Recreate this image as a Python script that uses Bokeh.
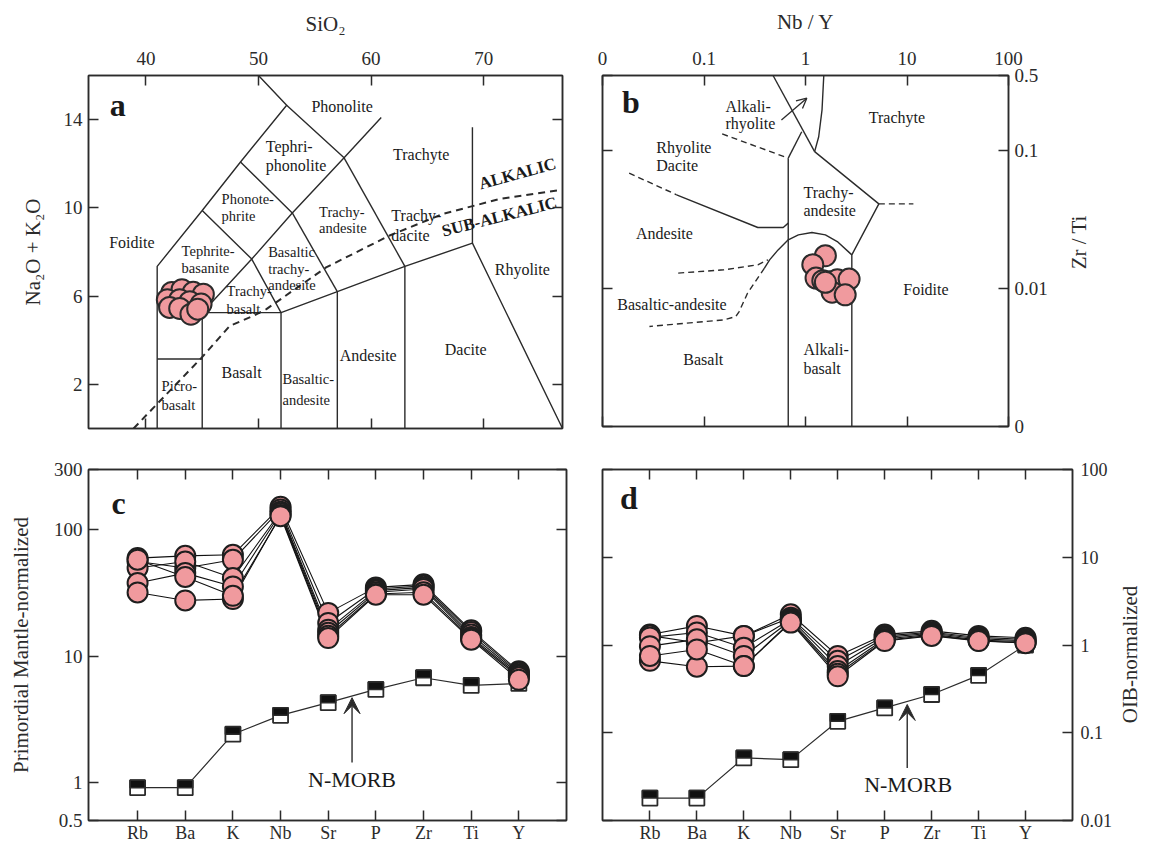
import math
from bokeh.plotting import figure
from bokeh.models import (LinearAxis, LogAxis, FixedTicker, Range1d, Arrow,
                          VeeHead, OpenHead, BasicTickFormatter)
from bokeh.layouts import column, row
from bokeh.embed import file_html
from bokeh.resources import INLINE
from bokeh.core.properties import value

FONT = "Liberation Serif, Times New Roman, serif"
INK = "#2b2b2b"
PINK = "#f09a9e"

# ======================= DATA =======================
# (a) TAS diagram
sio2_ticks = [40, 50, 60, 70]
alk_ticks = [2, 6, 10, 14]
tas_sio2 = [42.3, 43.2, 44.2, 45.1, 41.9, 43.0, 43.9, 44.9, 42.1, 43.0, 44.0, 44.6]
tas_alk = [6.17, 6.29, 6.17, 6.09, 5.84, 5.84, 5.75, 5.64, 5.49, 5.44, 5.18, 5.41]

tas_bounds_x = [
    [41, 41, 45, 48.4, 52.5, 50.0],
    [52.5, 57.6, 60.9],
    [57.6, 63.0],
    [48.4, 53.0, 57.6],
    [45, 49.4, 53.0],
    [45, 49.4, 52.0],
    [53.0, 57.0],
    [41, 45],
    [45, 45, 52, 57, 63, 69, 77],
    [52, 52], [57, 57], [63, 63], [69, 69],
]
tas_bounds_y = [
    [0, 7.35, 9.88, 12.08, 14.65, 16.0],
    [14.65, 12.27, 14.1],
    [12.27, 7.35],
    [12.08, 9.77, 12.27],
    [9.88, 7.68, 9.77],
    [5.25, 7.68, 5.25],
    [9.77, 6.2],
    [3.15, 3.15],
    [0, 5.25, 5.25, 6.2, 7.35, 8.4, 0],
    [0, 5.25], [0, 6.2], [0, 7.35], [8.4, 13.65],
]
alkalic_x = [38.9, 44.95, 47.45, 49.5, 50.7, 56.0, 61.65, 66.4, 71.4, 76.9]
alkalic_y = [0.0, 3.21, 4.65, 5.1, 5.41, 7.3, 8.75, 9.73, 10.4, 10.82]

# (b) Nb/Y vs Zr/Ti diagram
nby_ticks = [0.01, 0.1, 1, 10, 100]
nby_labels = ["0", "0.1", "1", "10", "100"]
B_TOP = 0.35
zrti_ticks = [0.001, 0.01, 0.1, B_TOP]
zrti_labels = ["0", "0.01", "0.1", "0.5"]
nby = [1.57, 1.18, 1.27, 1.48, 1.72, 2.06, 2.69, 1.83, 2.46, 1.57]
zrti = [0.0173, 0.0149, 0.0119, 0.0114, 0.0112, 0.0116, 0.0117, 0.0094, 0.0090, 0.0111]

wf_solid_x = [
    [0.479, 1.23],
    [0.676, 0.918],
    [1.514, 1.455, 1.349, 1.23],
    [0.676, 0.676],
    [1.23, 5.28, 2.86, 2.86],
    [2.86, 2.056, 1.57, 1.156, 0.851, 0.676, 0.537, 0.443, 0.394],
    [0.0537, 0.339, 0.603, 0.676],
]
wf_solid_y = [
    [B_TOP, 0.0983],
    [0.0881, 0.137],
    [B_TOP, 0.197, 0.126, 0.0983],
    [0.0881, 0.001],
    [0.0983, 0.0411, 0.01754, 0.001],
    [0.01754, 0.0219, 0.0245, 0.0255, 0.0245, 0.02254, 0.01906, 0.01614, 0.01406],
    [0.0478, 0.0277, 0.0277, 0.0298],
]
wf_dash_x = [
    [5.28, 11.56],
    [0.394, 0.269, 0.222, 0.206, 0.157, 0.029],
    [0.0557, 0.157, 0.339, 0.427],
    [0.0183, 0.0537],
    [0.151, 0.676],
]
wf_dash_y = [
    [0.0411, 0.0411],
    [0.01406, 0.00927, 0.00681, 0.00627, 0.00593, 0.00531],
    [0.01294, 0.01367, 0.01485, 0.01614],
    [0.0686, 0.0478],
    [0.132, 0.0881],
]

# (c, d) spider diagrams
elements = ["Rb", "Ba", "K", "Nb", "Sr", "P", "Zr", "Ti", "Y"]
elem_idx = list(range(len(elements)))
pm_ticks = [0.5, 1, 10, 100, 300]
pm_labels = ["0.5", "1", "10", "100", "300"]
oib_ticks = [0.01, 0.1, 1, 10, 100]
oib_labels = ["0.01", "0.1", "1", "10", "100"]

pm_samples = [
    [59.7, 62.2, 63.4, 152, 22.0, 35.0, 37.0, 16.0, 7.6],
    [56.1, 49.8, 57.9, 145, 18.3, 34.0, 36.0, 15.5, 7.4],
    [49.8, 56.1, 41.5, 139, 16.2, 33.0, 35.0, 14.8, 7.2],
    [37.9, 45.4, 35.6, 135, 15.3, 32.0, 34.0, 14.2, 7.0],
    [31.9, 27.6, 28.3, 131, 14.5, 31.0, 32.0, 13.8, 6.8],
    [58.0, 42.3, 30.0, 128, 13.9, 30.6, 30.6, 13.5, 6.5],
]
pm_nmorb = [0.91, 0.91, 2.41, 3.4, 4.28, 5.45, 6.74, 5.86, 6.08]

oib_samples = [
    [1.32, 1.65, 1.27, 2.24, 0.75, 1.32, 1.45, 1.27, 1.21],
    [1.28, 1.06, 1.27, 2.05, 0.66, 1.27, 1.40, 1.22, 1.16],
    [1.22, 1.39, 0.93, 1.97, 0.575, 1.22, 1.36, 1.18, 1.12],
    [0.97, 1.16, 0.75, 1.90, 0.505, 1.17, 1.32, 1.14, 1.09],
    [0.66, 0.566, 0.575, 1.85, 0.47, 1.13, 1.29, 1.12, 1.06],
    [0.75, 0.89, 0.575, 1.80, 0.44, 1.11, 1.27, 1.11, 1.05],
]
oib_nmorb = [0.018, 0.018, 0.0516, 0.0494, 0.135, 0.192, 0.273, 0.45, 1.0]


# ======================= HELPERS =======================
def base_fig(**kw):
    p = figure(output_backend="svg", toolbar_location=None, tools="", **kw)
    p.grid.visible = False
    p.outline_line_color = INK
    p.outline_line_width = 1.5
    p.background_fill_color = "white"
    p.border_fill_color = "white"
    return p


def style_axis(ax, ticks, labels=None, show=True, size="19px"):
    ax.ticker = FixedTicker(ticks=list(ticks))
    ax.formatter = BasicTickFormatter()
    ax.major_tick_in = 10
    ax.major_tick_out = 0
    ax.minor_tick_line_color = None
    ax.minor_tick_in = 0
    ax.minor_tick_out = 0
    ax.axis_line_color = INK
    ax.axis_line_width = 1.5
    ax.major_tick_line_color = INK
    ax.major_tick_line_width = 1.5
    ax.major_label_text_font = FONT
    ax.major_label_text_color = INK
    ax.major_label_standoff = 6
    if show:
        ax.major_label_text_font_size = size
        if labels is not None:
            ax.major_label_overrides = {t: l for t, l in zip(ticks, labels)}
    else:
        ax.major_label_text_font_size = "0px"
        ax.major_label_overrides = {t: "" for t in ticks}
    ax.axis_label_text_font = FONT
    ax.axis_label_text_font_style = "normal"
    ax.axis_label_text_color = INK
    ax.axis_label_text_font_size = "21px"
    ax.axis_label_standoff = 10


def labels(p, items, size, align="left", bold=False, angle=0.0):
    p.text(x=[i[1] for i in items], y=[i[2] for i in items], text=[i[0] for i in items],
           text_font=value(FONT), text_font_size=size, text_align=align,
           text_baseline="middle", text_color="#1a1a1a", angle=angle,
           text_font_style="bold" if bold else "normal")


def label_strip(text, ypos, width, frame_h, top, bottom):
    """Narrow companion figure that carries a right-hand axis title reading upward."""
    s = figure(output_backend="svg", toolbar_location=None, tools="",
               x_range=Range1d(0, 1), y_range=Range1d(0, 1),
               frame_width=width, frame_height=frame_h,
               x_axis_location=None, y_axis_location=None,
               min_border_left=0, min_border_right=0,
               min_border_top=top, min_border_bottom=bottom)
    s.grid.visible = False
    s.outline_line_color = None
    s.background_fill_color = "white"
    s.border_fill_color = "white"
    s.text(x=[0.5], y=[ypos], text=[text], angle=math.pi / 2,
           text_font=value(FONT), text_font_size="21px", text_align="center",
           text_baseline="middle", text_color=INK)
    return s


# ======================= (a) TAS =======================
pa = base_fig(x_range=Range1d(34.9, 77), y_range=Range1d(0, 16),
              frame_width=474, frame_height=353,
              min_border_left=88, min_border_right=20, min_border_top=73, min_border_bottom=20,
              x_axis_location="above")
style_axis(pa.xaxis[0], sio2_ticks, [str(t) for t in sio2_ticks])
pa.xaxis[0].axis_label = "SiO\u2082"
pa.xaxis[0].major_label_standoff = 11
pa.xaxis[0].axis_label_standoff = 13
style_axis(pa.yaxis[0], alk_ticks, [str(t) for t in alk_ticks])
pa.yaxis[0].axis_label = "Na\u2082O + K\u2082O"
pa.yaxis[0].axis_label_standoff = 16
ax_b = LinearAxis(); style_axis(ax_b, sio2_ticks, show=False); pa.add_layout(ax_b, "below")
ax_r = LinearAxis(); style_axis(ax_r, alk_ticks, show=False); pa.add_layout(ax_r, "right")

pa.multi_line(xs=tas_bounds_x, ys=tas_bounds_y, line_color=INK, line_width=1.4)
pa.line(alkalic_x, alkalic_y, line_color=INK, line_width=2, line_dash="7 5")

labels(pa, [("Phonolite", 54.7, 14.58), ("Tephri-", 50.65, 12.76), ("phonolite", 50.65, 11.9),
            ("Foidite", 36.74, 8.44), ("Basalt", 46.72, 2.53), ("Andesite", 57.22, 3.3),
            ("Dacite", 66.54, 3.58), ("Rhyolite", 70.98, 7.21), ("Trachyte", 61.95, 12.44),
            ("Trachy-", 61.8, 9.65), ("dacite", 61.8, 8.75)], "16px")
labels(pa, [("Phonote-", 46.72, 10.4), ("phrite", 46.72, 9.62),
            ("Trachy-", 55.38, 9.8), ("andesite", 55.38, 9.08),
            ("Tephrite-", 43.17, 8.03), ("basanite", 43.17, 7.26),
            ("Basaltic", 50.86, 7.99), ("trachy-", 50.86, 7.21), ("andesite", 50.86, 6.49),
            ("Trachy-", 47.16, 6.21), ("basalt", 47.16, 5.4),
            ("Picro-", 41.39, 1.94), ("basalt", 41.39, 1.08),
            ("Basaltic-", 52.13, 2.26), ("andesite", 52.13, 1.31)], "14.5px")
labels(pa, [("ALKALIC", 73.0, 11.55)], "17px", align="center", bold=True, angle=0.27)
labels(pa, [("SUB-ALKALIC", 71.4, 9.6)], "17px", align="center", bold=True, angle=0.25)
labels(pa, [("a", 37.5, 14.67)], "32px", align="center", bold=True)

pa.scatter(tas_sio2, tas_alk, size=21, fill_color=PINK, line_color=INK, line_width=2)

# ======================= (b) Winchester & Floyd =======================
pb = base_fig(x_axis_type="log", y_axis_type="log",
              x_range=Range1d(0.01, 100), y_range=Range1d(0.001, B_TOP),
              frame_width=406, frame_height=351,
              min_border_left=20, min_border_right=57, min_border_top=75, min_border_bottom=20,
              x_axis_location="above", y_axis_location="right")
style_axis(pb.xaxis[0], nby_ticks, nby_labels)
pb.xaxis[0].axis_label = "Nb / Y"
pb.xaxis[0].major_label_standoff = 11
pb.xaxis[0].axis_label_standoff = 15
style_axis(pb.yaxis[0], zrti_ticks, zrti_labels)
bx = LogAxis(); style_axis(bx, nby_ticks, show=False); pb.add_layout(bx, "below")
by = LogAxis(); style_axis(by, zrti_ticks, show=False); pb.add_layout(by, "left")

pb.multi_line(xs=wf_solid_x, ys=wf_solid_y, line_color=INK, line_width=1.4)
pb.multi_line(xs=wf_dash_x, ys=wf_dash_y, line_color=INK, line_width=1.4, line_dash="6 4")
pb.add_layout(Arrow(end=OpenHead(size=10, line_color=INK, line_width=1.3),
                    x_start=0.579, y_start=0.1667, x_end=1.03, y_end=0.2399,
                    line_color=INK, line_width=1.3))

labels(pb, [("Alkali-", 0.163, 0.208), ("rhyolite", 0.163, 0.156),
            ("Rhyolite", 0.0339, 0.1058), ("Dacite", 0.0339, 0.0775),
            ("Trachyte", 4.2, 0.1746), ("Trachy-", 0.955, 0.0496), ("andesite", 0.955, 0.0367),
            ("Andesite", 0.0214, 0.0252), ("Basaltic-andesite", 0.014, 0.00762),
            ("Basalt", 0.0625, 0.00308), ("Alkali-", 0.955, 0.0036), ("basalt", 0.955, 0.00265),
            ("Foidite", 9.18, 0.0098)], "16px")
labels(pb, [("b", 0.019, 0.2265)], "32px", align="center", bold=True)

pb.scatter(nby, zrti, size=21, fill_color=PINK, line_color=INK, line_width=2)
pb_title = label_strip("Zr / Ti", 0.525, 26, 351, 75, 20)


# ======================= (c, d) spider diagrams =======================
def spider(p, samples, nmorb, px_unit, px_decade):
    half = 7.5
    hw = half / px_unit
    f = 10 ** (half / px_decade)
    p.line(elem_idx, nmorb, line_color=INK, line_width=1.2)
    p.scatter(elem_idx, nmorb, marker="square", size=2 * half, fill_color="white",
              line_color=INK, line_width=1.8)
    p.quad(left=[i - hw for i in elem_idx], right=[i + hw for i in elem_idx],
           bottom=nmorb, top=[v * f for v in nmorb],
           fill_color="#111111", line_color=INK, line_width=1.5)
    for s in samples:
        p.line(elem_idx, s, line_color="#111111", line_width=1.1)
    for s in samples:
        p.scatter(elem_idx, s, size=20, fill_color=PINK, line_color="#1e1e1e", line_width=2)


pc = base_fig(y_axis_type="log", x_range=Range1d(-1.03, 9.0), y_range=Range1d(0.5, 300),
              frame_width=478, frame_height=351,
              min_border_left=88, min_border_right=16, min_border_top=23, min_border_bottom=23)
style_axis(pc.xaxis[0], elem_idx, elements, size="18px")
pc.xaxis[0].major_label_standoff = 2
style_axis(pc.yaxis[0], pm_ticks, pm_labels)
pc.yaxis[0].axis_label = "Primordial Mantle-normalized"
pc.yaxis[0].axis_label_standoff = 18
ct = LinearAxis(); style_axis(ct, elem_idx, show=False); pc.add_layout(ct, "above")
cr = LogAxis(); style_axis(cr, pm_ticks, show=False); pc.add_layout(cr, "right")
spider(pc, pm_samples, pm_nmorb, 478 / 10.03, 351 / math.log10(300 / 0.5))
pc.add_layout(Arrow(end=VeeHead(size=16, fill_color=INK, line_color=INK),
                    x_start=4.5, y_start=1.44, x_end=4.5, y_end=4.69,
                    line_color=INK, line_width=1.4))
labels(pc, [("N-MORB", 4.5, 1.05)], "22px", align="center")
labels(pc, [("c", -0.4, 164)], "32px", align="center", bold=True)

pd_ = base_fig(y_axis_type="log", x_range=Range1d(-1.01, 9.0), y_range=Range1d(0.01, 100),
               frame_width=470, frame_height=351, y_axis_location="right",
               min_border_left=20, min_border_right=45, min_border_top=23, min_border_bottom=23)
style_axis(pd_.xaxis[0], elem_idx, elements, size="18px")
pd_.xaxis[0].major_label_standoff = 2
style_axis(pd_.yaxis[0], oib_ticks, oib_labels, size="18px")
pd_.yaxis[0].major_label_standoff = 8
dt = LinearAxis(); style_axis(dt, elem_idx, show=False); pd_.add_layout(dt, "above")
dl = LogAxis(); style_axis(dl, oib_ticks, show=False); pd_.add_layout(dl, "left")
spider(pd_, oib_samples, oib_nmorb, 470 / 10.01, 351 / 4.0)
pd_.add_layout(Arrow(end=VeeHead(size=16, fill_color=INK, line_color=INK),
                     x_start=5.48, y_start=0.0397, x_end=5.48, y_end=0.21,
                     line_color=INK, line_width=1.4))
labels(pd_, [("N-MORB", 5.5, 0.0256)], "22px", align="center")
labels(pd_, [("d", -0.45, 47.1)], "32px", align="center", bold=True)
pd_title = label_strip("OIB-normalized", 0.473, 24, 351, 23, 23)

layout = column(row(pa, pb, pb_title), row(pc, pd_, pd_title))
open("out.html", "w").write(file_html(layout, INLINE))
